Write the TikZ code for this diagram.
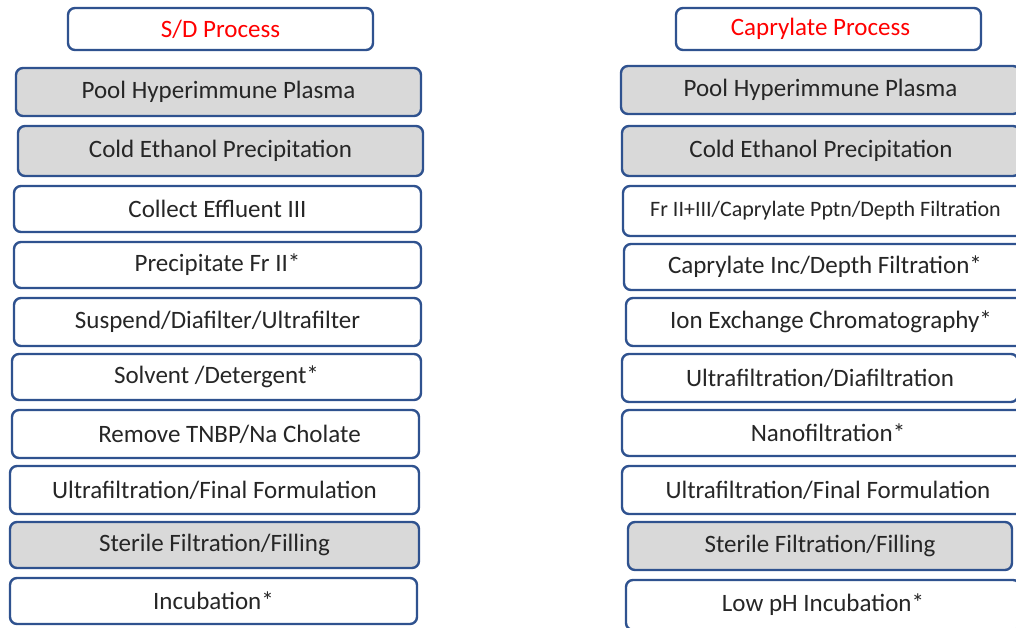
\documentclass[tikz,border=0pt]{standalone}
\usepackage{fontspec}
\setmainfont{Carlito}
\definecolor{bord}{RGB}{47,82,143}
\definecolor{grayfill}{RGB}{217,217,217}
\definecolor{txt}{RGB}{38,38,38}
\definecolor{hdr}{RGB}{255,0,0}
\tikzset{
  stepbox/.style={draw=bord, line width=2.4pt, rounded corners=7pt, inner sep=0pt, fill=white,
    text=txt, font=\fontsize{25}{30}\selectfont, anchor=center},
  graybox/.style={stepbox, fill=grayfill},
  hdrbox/.style={stepbox, text=hdr},
  smalltext/.style={font=\fontsize{22}{26}\selectfont}
}
% style, name, x1, y1, x2, y2, text  (pixel coordinates, y downward)
\newcommand\bx[7]{%
  \pgfmathsetmacro\bxcx{(#3+#5)/2}%
  \pgfmathsetmacro\bxcy{-(#4+#6)/2}%
  \pgfmathsetmacro\bxw{#5-#3}%
  \pgfmathsetmacro\bxh{#6-#4}%
  \node[#1, minimum width=\bxw pt, minimum height=\bxh pt] (#2) at (\bxcx,\bxcy) {#7};%
}
\begin{document}
\begin{tikzpicture}[x=1pt,y=1pt]
\path[use as bounding box] (0,0) rectangle (1016,-627);
\clip (0,0) rectangle (1016,-627);
% S/D column
\bx{hdrbox}{sdh}{68}{8}{373}{50}{S/D Process}
\bx{graybox}{sd1}{16}{68}{421}{116}{Pool Hyperimmune Plasma}
\bx{graybox}{sd2}{18}{126}{423}{176}{Cold Ethanol Precipitation}
\bx{stepbox}{sd3}{14}{186}{421}{232}{Collect Effluent III}
\bx{stepbox}{sd4}{14}{242}{421}{288}{Precipitate Fr II*}
\bx{stepbox}{sd5}{14}{298}{421}{346}{Suspend/Diafilter/Ultrafilter}
\bx{stepbox}{sd6}{12}{354}{421}{400}{Solvent /Detergent*}
\bx{stepbox}{sd7}{12}{410}{419}{458}{\hspace*{28pt}Remove TNBP/Na Cholate}
\bx{stepbox}{sd8}{10}{466}{419}{514}{Ultrafiltration/Final Formulation}
\bx{graybox}{sd9}{10}{522}{419}{568}{Sterile Filtration/Filling}
\bx{stepbox}{sd10}{10}{578}{417}{624}{Incubation*}
% Caprylate column
\bx{hdrbox}{cph}{676}{8}{981}{50}{Caprylate Process\hspace*{16pt}}
\bx{graybox}{cp1}{621}{66}{1020}{114}{Pool Hyperimmune Plasma}
\bx{graybox}{cp2}{622}{126}{1020}{176}{Cold Ethanol Precipitation}
\bx{stepbox,smalltext}{cp3}{623}{186}{1028}{236}{Fr II+III/Caprylate Pptn/Depth Filtration}
\bx{stepbox}{cp4}{624}{244}{1026}{290}{Caprylate Inc/Depth Filtration*}
\bx{stepbox}{cp5}{626}{298}{1036}{346}{Ion Exchange Chromatography*}
\bx{stepbox}{cp6}{622}{354}{1018}{402}{Ultrafiltration/Diafiltration}
\bx{stepbox}{cp7}{622}{410}{1034}{456}{Nanofiltration*}
\bx{stepbox}{cp8}{622}{466}{1034}{514}{Ultrafiltration/Final Formulation}
\bx{graybox}{cp9}{628}{522}{1012}{570}{Sterile Filtration/Filling}
\bx{stepbox}{cp10}{626}{580}{1020}{630}{Low pH Incubation*}
\end{tikzpicture}
\end{document}
